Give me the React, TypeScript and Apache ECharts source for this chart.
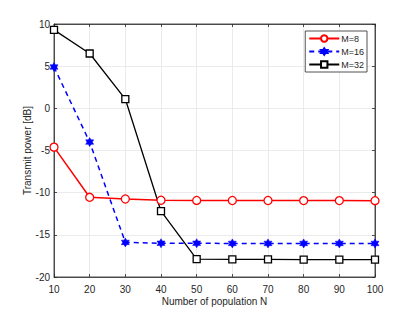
import React, { useEffect, useRef } from "react";
import * as echarts from "echarts";

const populationN = [10, 20, 30, 40, 50, 60, 70, 80, 90, 100];
const m8 = [-4.6, -10.55, -10.75, -10.9, -10.92, -10.93, -10.93, -10.94, -10.94, -10.95];
const m16 = [4.9, -4.0, -15.9, -16.0, -16.0, -16.02, -16.02, -16.02, -16.02, -16.02];
const m32 = [9.3, 6.5, 1.1, -12.2, -17.87, -17.9, -17.92, -17.93, -17.95, -17.95];
const seriesNames = ["M=8", "M=16", "M=32"];

const HEX = "path://M0,-100L28.9,-50L86.6,-50L57.7,0L86.6,50L28.9,50L0,100L-28.9,50L-86.6,50L-57.7,0L-86.6,-50L-28.9,-50Z";
const FONT = "Liberation Sans";
const TXT = "#262626";

export default function App() {
  const ref = useRef<HTMLDivElement>(null);
  useEffect(() => {
    const chart = echarts.init(ref.current!, null, { renderer: "svg" });
    const pair = (ys: number[]) => populationN.map((x, i) => [x, ys[i]]);
    const tickStyle = { show: true, inside: true, length: 3, lineStyle: { color: TXT, width: 0.8 } };
    chart.setOption({
      animation: false,
      backgroundColor: "#fff",
      grid: { left: 54, right: 40, top: 24, bottom: 35, show: true, borderColor: TXT, borderWidth: 0.8, backgroundColor: "transparent" },
      legend: {
        data: seriesNames,
        orient: "vertical",
        right: 48,
        top: 31,
        itemWidth: 30,
        itemHeight: 8,
        itemGap: 4,
        padding: [3, 3, 3, 3],
        borderColor: TXT,
        borderWidth: 0.8,
        backgroundColor: "#fff",
        textStyle: { fontFamily: FONT, fontSize: 9, color: TXT, padding: [0, 0, 0, -3] },
      },
      xAxis: [
        {
          type: "value", min: 10, max: 100, interval: 10,
          name: "Number of population N", nameLocation: "middle", nameGap: 19, nameMoveOverlap: false,
          nameTextStyle: { fontFamily: FONT, fontSize: 10, color: TXT },
          axisLine: { show: true, onZero: false, lineStyle: { color: TXT, width: 0.8 } },
          axisTick: tickStyle,
          axisLabel: { fontFamily: FONT, fontSize: 10, color: TXT, margin: 7 },
          splitLine: { show: true, lineStyle: { color: "#e6e6e6", width: 0.8 } },
        },
        {
          type: "value", min: 10, max: 100, interval: 10, position: "top",
          axisLine: { show: true, onZero: false, lineStyle: { color: TXT, width: 0.8 } },
          axisTick: tickStyle, axisLabel: { show: false }, splitLine: { show: false },
        },
      ],
      yAxis: [
        {
          type: "value", min: -20, max: 10, interval: 5,
          name: "Transmit power [dB]", nameLocation: "middle", nameGap: 22, nameMoveOverlap: false,
          nameTextStyle: { fontFamily: FONT, fontSize: 10, color: TXT },
          axisLine: { show: true, onZero: false, lineStyle: { color: TXT, width: 0.8 } },
          axisTick: tickStyle,
          axisLabel: { fontFamily: FONT, fontSize: 10, color: TXT, margin: 4 },
          splitLine: { show: true, lineStyle: { color: "#e6e6e6", width: 0.8 } },
        },
        {
          type: "value", min: -20, max: 10, interval: 5, position: "right",
          axisLine: { show: true, onZero: false, lineStyle: { color: TXT, width: 0.8 } },
          axisTick: tickStyle, axisLabel: { show: false }, splitLine: { show: false },
        },
      ],
      series: [
        {
          name: seriesNames[0], type: "line", data: pair(m8),
          symbol: "circle", symbolSize: 8, showAllSymbol: true,
          lineStyle: { color: "#ff0000", width: 1.5 },
          itemStyle: { color: "#ffffff", borderColor: "#ff0000", borderWidth: 1.3 },
          color: "#ff0000",
        },
        {
          name: seriesNames[1], type: "line", data: pair(m16),
          symbol: HEX, symbolSize: [8, 9], showAllSymbol: true,
          lineStyle: { color: "#0000ff", width: 1.5, type: [5, 4] },
          itemStyle: { color: "#0000ff", borderColor: "#0000ff", borderWidth: 0.5 },
          color: "#0000ff",
        },
        {
          name: seriesNames[2], type: "line", data: pair(m32),
          symbol: "rect", symbolSize: 7, showAllSymbol: true,
          lineStyle: { color: "#000000", width: 1.3 },
          itemStyle: { color: "#ffffff", borderColor: "#000000", borderWidth: 1.3 },
          color: "#000000",
        },
      ],
    });
    return () => chart.dispose();
  }, []);
  return <div ref={ref} style={{ width: 415, height: 312, position: "absolute", left: 0, top: 0 }} />;
}
